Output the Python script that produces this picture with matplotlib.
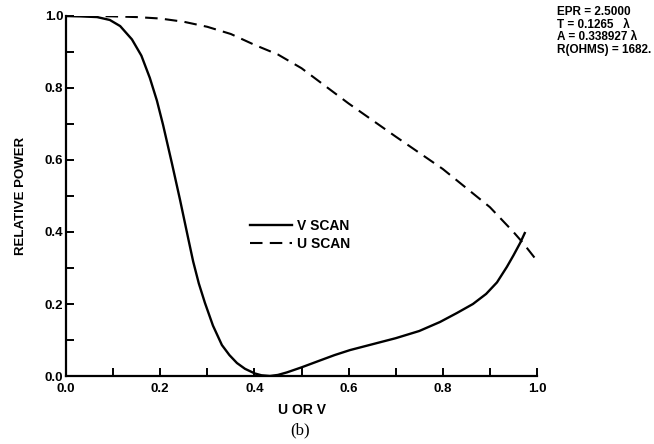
import numpy as np
import matplotlib
matplotlib.use("Agg")
import matplotlib.pyplot as plt
from matplotlib.ticker import MultipleLocator

# V SCAN (solid) and U SCAN (dashed)
v_x = [0.0, 0.03, 0.066, 0.093, 0.115, 0.14, 0.16, 0.178, 0.193, 0.206, 0.225, 0.242,
       0.259, 0.27, 0.282, 0.295, 0.312, 0.331, 0.347, 0.363, 0.38, 0.401, 0.415, 0.433,
       0.45, 0.469, 0.5, 0.539, 0.57, 0.603, 0.65, 0.7, 0.75, 0.794, 0.83, 0.864,
       0.892, 0.915, 0.936, 0.95, 0.964, 0.974]
v_y = [1.0, 0.999, 0.997, 0.989, 0.972, 0.935, 0.89, 0.828, 0.765, 0.698, 0.59, 0.49,
       0.385, 0.318, 0.257, 0.203, 0.14, 0.086, 0.058, 0.036, 0.02, 0.007, 0.002, 0.0,
       0.003, 0.01, 0.024, 0.043, 0.058, 0.072, 0.088, 0.105, 0.125, 0.15, 0.175, 0.2,
       0.228, 0.26, 0.303, 0.335, 0.369, 0.397]

u_x = [0.0, 0.05, 0.1, 0.15, 0.2, 0.25, 0.3, 0.35, 0.4, 0.45, 0.5, 0.55, 0.6, 0.65,
       0.7, 0.75, 0.8, 0.85, 0.9, 0.95, 0.97, 1.0]
u_y = [1.0, 1.0, 0.999, 0.997, 0.993, 0.984, 0.97, 0.95, 0.92, 0.893, 0.855, 0.806,
       0.757, 0.711, 0.665, 0.62, 0.575, 0.522, 0.469, 0.40, 0.37, 0.32]

info_lines = ["EPR = 2.5000", "T = 0.1265   \u03bb", "A = 0.338927 \u03bb", "R(OHMS) = 1682."]

plt.rcParams["font.family"] = ["Liberation Sans", "DejaVu Sans"]
plt.rcParams["font.weight"] = "bold"

fig = plt.figure(figsize=(6.54, 4.44), dpi=100)
ax = fig.add_axes([66 / 654, 68 / 444, 471 / 654, 360 / 444])

ax.plot(v_x, v_y, color="black", lw=1.7, label="V SCAN")
ax.plot(u_x, u_y, color="black", lw=1.5, dashes=(6, 3.5), label="U SCAN")

ax.set_xlim(0, 1.0)
ax.set_ylim(0, 1.0)
ax.spines["top"].set_visible(False)
ax.spines["right"].set_visible(False)
for s in ("left", "bottom"):
    ax.spines[s].set_linewidth(1.6)
ax.xaxis.set_major_locator(MultipleLocator(0.2))
ax.xaxis.set_minor_locator(MultipleLocator(0.1))
ax.yaxis.set_major_locator(MultipleLocator(0.2))
ax.yaxis.set_minor_locator(MultipleLocator(0.1))
ax.tick_params(which="both", direction="in", length=6, width=1.4, labelsize=9.5)
ax.tick_params(axis="y", pad=2)
ax.tick_params(axis="x", pad=5)
ax.xaxis.set_major_formatter(lambda v, p: f"{v:.1f}")
ax.yaxis.set_major_formatter(lambda v, p: f"{v:.1f}")
for lbl in ax.get_xticklabels() + ax.get_yticklabels():
    lbl.set_fontweight("bold")

ax.set_xlabel("U OR V", fontsize=10, fontweight="bold", labelpad=6)
ax.set_ylabel("RELATIVE POWER", fontsize=9.5, fontweight="bold", labelpad=13)

ax.legend(loc="upper left", bbox_to_anchor=(0.364, 0.47), frameon=False,
          handlelength=3.0, handletextpad=0.4, labelspacing=0.25,
          prop={"size": 10, "weight": "bold"})

for i, line in enumerate(info_lines):
    fig.text(557 / 654, 1 - (12 + 12.7 * i) / 444, line, fontsize=8.5,
             fontweight="bold", va="center", ha="left")

fig.text(300 / 654, 1 - 430 / 444, "(b)", fontsize=12, fontweight="normal",
         family="Liberation Serif", ha="center", va="center")

fig.savefig("out.png", dpi=100)
